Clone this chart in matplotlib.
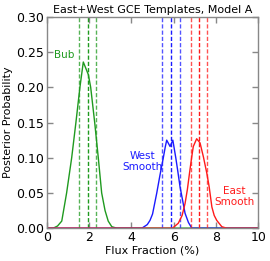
import matplotlib
matplotlib.use('Agg')
import matplotlib.pyplot as plt
import numpy as np

# Posterior curves (flux fraction %, probability)
x_bub = [0.0, 0.3, 0.5, 0.7, 0.93, 1.17, 1.37, 1.56, 1.72, 1.96, 2.07, 2.26, 2.43, 2.59, 2.75, 2.9, 3.07, 3.3, 10.0]
p_bub = [0.0, 0.0, 0.003, 0.01, 0.05, 0.10, 0.15, 0.20, 0.236, 0.218, 0.20, 0.15, 0.10, 0.05, 0.025, 0.01, 0.002, 0.0, 0.0]

x_west = [0.0, 4.5, 4.75, 4.88, 5.0, 5.2, 5.35, 5.51, 5.6, 5.67, 5.83, 5.96, 6.1, 6.2, 6.3, 6.42, 6.54, 6.7, 6.86, 10.0]
p_west = [0.0, 0.0, 0.005, 0.011, 0.02, 0.05, 0.075, 0.10, 0.115, 0.125, 0.116, 0.125, 0.10, 0.08, 0.059, 0.04, 0.021, 0.008, 0.0, 0.0]

x_east = [0.0, 5.95, 6.22, 6.4, 6.54, 6.65, 6.75, 6.85, 6.93, 7.09, 7.25, 7.41, 7.57, 7.68, 7.81, 7.92, 8.04, 8.28, 8.5, 10.0]
p_east = [0.0, 0.0, 0.007, 0.018, 0.035, 0.055, 0.078, 0.10, 0.116, 0.127, 0.121, 0.101, 0.078, 0.059, 0.03, 0.018, 0.011, 0.002, 0.0, 0.0]

# 16/50/84 percentiles
q_bub = [1.52, 1.94, 2.34]
q_west = [5.47, 5.88, 6.30]
q_east = [6.81, 7.20, 7.60]

green = '#1f9a1f'
blue = '#1a1aff'
red = '#ff1a1a'

fig = plt.figure(figsize=(2.7, 2.61), dpi=100)
ax = fig.add_axes([0.174, 0.126, 0.782, 0.809])

for xs, ps, qs, c in [(x_bub, p_bub, q_bub, green),
                      (x_west, p_west, q_west, blue),
                      (x_east, p_east, q_east, red)]:
    ax.plot(xs, ps, color=c, lw=1.0)
    for i, q in enumerate(qs):
        ax.axvline(q, color=c, ls='--', lw=1.0, dashes=(3, 1.5),
                   alpha=1.0 if i == 1 else 0.75)

ax.text(0.8, 0.246, 'Bub', color=green, fontsize=7.5, ha='center', va='center')
ax.text(4.53, 0.095, 'West\nSmooth', color=blue, fontsize=7.5, ha='center', va='center',
        linespacing=1.1)
ax.text(8.86, 0.045, 'East\nSmooth', color=red, fontsize=7.5, ha='center', va='center',
        linespacing=1.1)

ax.set_xlim(0, 10)
ax.set_ylim(0, 0.30)
ax.set_xticks([0, 2, 4, 6, 8, 10])
ax.set_yticks([0.0, 0.05, 0.10, 0.15, 0.20, 0.25, 0.30])
ax.set_yticklabels(['0.00', '0.05', '0.10', '0.15', '0.20', '0.25', '0.30'])
ax.tick_params(direction='in', top=True, right=True, length=4, width=1,
               color='#888888', labelsize=9, pad=2)
for s in ax.spines.values():
    s.set_color('#888888')
    s.set_linewidth(1)

ax.set_xlabel('Flux Fraction (%)', fontsize=8, labelpad=1)
ax.set_ylabel('Posterior Probability', fontsize=8, labelpad=2)
ax.set_title('East+West GCE Templates, Model A', fontsize=8, pad=3)

fig.savefig('out.png', dpi=100)
